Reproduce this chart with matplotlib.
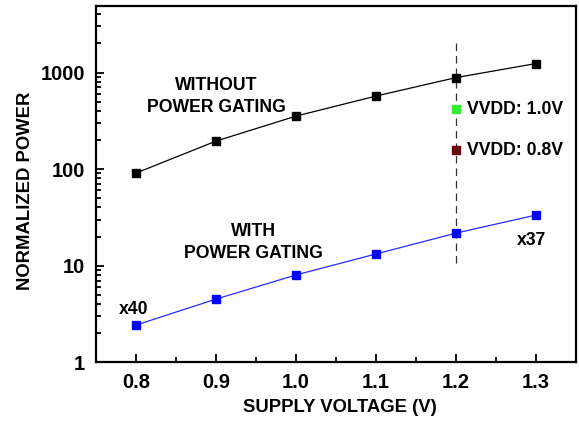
import matplotlib
matplotlib.use("Agg")
import matplotlib.pyplot as plt
from matplotlib.ticker import LogLocator, NullFormatter, FixedLocator

plt.rcParams['font.family'] = ['Liberation Sans', 'DejaVu Sans']
plt.rcParams['font.weight'] = 'bold'

voltage = [0.8, 0.9, 1.0, 1.1, 1.2, 1.3]
power_without_pg = [91, 195, 354, 571, 887, 1240]
power_with_pg = [2.42, 4.5, 8.0, 13.2, 21.7, 33.4]
vvdd_voltage = 1.2
vvdd_10_power = 417
vvdd_08_power = 157
x_ticks = [0.8, 0.9, 1.0, 1.1, 1.2, 1.3]
y_ticks = [1, 10, 100, 1000]

fig = plt.figure(figsize=(5.79, 4.23), dpi=100)
ax = fig.add_axes([0.166, 0.144, 0.829, 0.842])

ax.plot(voltage, power_without_pg, color='black', lw=0.9, marker='s',
        markersize=6, markerfacecolor='black', markeredgecolor='black', zorder=3)
ax.plot(voltage, power_with_pg, color='#2a2aff', lw=0.9, marker='s',
        markersize=6, markerfacecolor='#0000ff', markeredgecolor='#0000ff', zorder=3)

ax.plot([vvdd_voltage, vvdd_voltage], [10.6, 2250], color='#333333', lw=0.9,
        ls=(0, (6, 4)), zorder=2)
ax.plot([vvdd_voltage], [vvdd_10_power], marker='s', markersize=5.5,
        color='#33ee33', ls='none', zorder=4)
ax.plot([vvdd_voltage], [vvdd_08_power], marker='s', markersize=5.5,
        color='#6a0c0c', ls='none', zorder=4)

ax.set_yscale('log')
ax.set_xlim(0.75, 1.35)
ax.set_ylim(1, 4900)

ax.xaxis.set_major_locator(FixedLocator(x_ticks))
ax.xaxis.set_minor_locator(FixedLocator([0.85, 0.95, 1.05, 1.15, 1.25]))
ax.set_xticklabels([f"{v:.1f}" for v in x_ticks])
ax.yaxis.set_major_locator(FixedLocator(y_ticks))
ax.set_yticklabels([str(v) for v in y_ticks])
ax.yaxis.set_minor_locator(LogLocator(base=10, subs=range(2, 10)))
ax.yaxis.set_minor_formatter(NullFormatter())

ax.tick_params(which='both', direction='in', top=False, right=False, width=1.3)
ax.tick_params(which='major', length=6, labelsize=14.5, pad=8)
ax.tick_params(which='minor', length=3.5)
for lbl in ax.get_xticklabels() + ax.get_yticklabels():
    lbl.set_fontweight('bold')

for sp in ax.spines.values():
    sp.set_linewidth(1.6)

ax.set_xlabel('SUPPLY VOLTAGE (V)', fontsize=13.3, fontweight='bold', labelpad=5)
ax.set_ylabel('NORMALIZED POWER', fontsize=13.3, fontweight='bold', labelpad=5)
ax.xaxis.label.set_x(0.508)
ax.yaxis.label.set_y(0.48)

ax.text(0.9, 562, 'WITHOUT\nPOWER GATING', ha='center', va='center',
        fontsize=12.7, fontweight='bold', linespacing=1.4)
ax.text(0.947, 17.3, 'WITH\nPOWER GATING', ha='center', va='center',
        fontsize=12.7, fontweight='bold', linespacing=1.4)
ax.text(0.797, 3.54, 'x40', ha='center', va='center', fontsize=12.7, fontweight='bold')
ax.text(1.294, 18.4, 'x37', ha='center', va='center', fontsize=12.7, fontweight='bold')
ax.text(1.214, vvdd_10_power, 'VVDD: 1.0V', ha='left', va='center',
        fontsize=12.7, fontweight='bold')
ax.text(1.214, vvdd_08_power, 'VVDD: 0.8V', ha='left', va='center',
        fontsize=12.7, fontweight='bold')

fig.savefig('out.png', dpi=100)
